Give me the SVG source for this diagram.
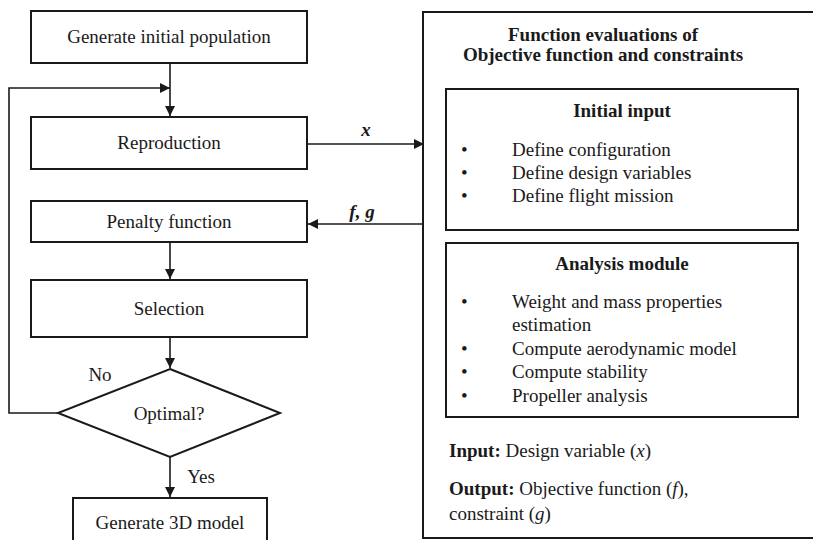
<svg xmlns="http://www.w3.org/2000/svg" width="813" height="540" viewBox="0 0 813 540">
<style>
.box{fill:#fff;stroke:#1a1a1a;stroke-width:2}
.ln{fill:none;stroke:#1a1a1a;stroke-width:1.6}
text{font-family:"Liberation Serif","Times New Roman",serif;font-size:19px;fill:#1a1a1a}
.c{text-anchor:middle}
.b{font-weight:bold}
.i{font-style:italic}
</style>
<defs>
<marker id="ah" viewBox="0 0 10 10" refX="10" refY="5" markerWidth="10" markerHeight="10" markerUnits="userSpaceOnUse" orient="auto">
<path d="M0,0 L10,5 L0,10 z" fill="#1a1a1a"/>
</marker>
</defs>
<rect width="813" height="540" fill="#fff"/>
<g id="connectors">
<path class="ln" d="M170,63 V116" marker-end="url(#ah)"/>
<path class="ln" d="M58,413 H9 V88 H170" marker-end="url(#ah)"/>
<path class="ln" d="M307,144 H424" marker-end="url(#ah)"/>
<path class="ln" d="M423,224 H308" marker-end="url(#ah)"/>
<path class="ln" d="M170,242 V279" marker-end="url(#ah)"/>
<path class="ln" d="M170,337 V368" marker-end="url(#ah)"/>
<path class="ln" d="M170,457 V497" marker-end="url(#ah)"/>
<text x="366" y="136" class="b i c">x</text>
<text x="362" y="218" class="b i c">f, g</text>
<text x="100" y="381" class="c">No</text>
<text x="201" y="483" class="c">Yes</text>
</g>
<g id="gen-init">
<rect class="box" x="31" y="11" width="276" height="52"/>
<text x="169" y="43" class="c">Generate initial population</text>
</g>
<g id="reproduction">
<rect class="box" x="31" y="117" width="276" height="52"/>
<text x="169" y="149" class="c">Reproduction</text>
</g>
<g id="penalty">
<rect class="box" x="31" y="201" width="276" height="41"/>
<text x="169" y="228" class="c">Penalty function</text>
</g>
<g id="selection">
<rect class="box" x="31" y="280" width="276" height="57"/>
<text x="169" y="315" class="c">Selection</text>
</g>
<g id="optimal">
<polygon class="box" points="170,369 280,413 170,457 58,413"/>
<text x="169" y="420" class="c">Optimal?</text>
</g>
<g id="gen-3d">
<rect class="box" x="73" y="498" width="194" height="60"/>
<text x="170" y="529" class="c">Generate 3D model</text>
</g>
<g id="function-eval">
<rect class="box" x="423" y="12" width="400" height="526"/>
<text x="603" y="41" class="b c">Function evaluations of</text>
<text x="603" y="61" class="b c">Objective function and constraints</text>
<text x="449" y="457"><tspan class="b">Input:</tspan> Design variable (<tspan class="i">x</tspan>)</text>
<text x="449" y="495"><tspan class="b">Output:</tspan> Objective function (<tspan class="i">f</tspan>),</text>
<text x="449" y="520">constraint (<tspan class="i">g</tspan>)</text>
</g>
<g id="initial-input">
<rect class="box" x="446" y="89" width="352" height="141"/>
<text x="622" y="117" class="b c">Initial input</text>
<text x="461" y="156">•</text><text x="512" y="156">Define configuration</text>
<text x="461" y="179">•</text><text x="512" y="179">Define design variables</text>
<text x="461" y="202">•</text><text x="512" y="202">Define flight mission</text>
</g>
<g id="analysis-module">
<rect class="box" x="446" y="243" width="352" height="174"/>
<text x="622" y="270" class="b c">Analysis module</text>
<text x="461" y="308">•</text><text x="512" y="308">Weight and mass properties</text>
<text x="512" y="331">estimation</text>
<text x="461" y="355">•</text><text x="512" y="355">Compute aerodynamic model</text>
<text x="461" y="378">•</text><text x="512" y="378">Compute stability</text>
<text x="461" y="402">•</text><text x="512" y="402">Propeller analysis</text>
</g>
</svg>
